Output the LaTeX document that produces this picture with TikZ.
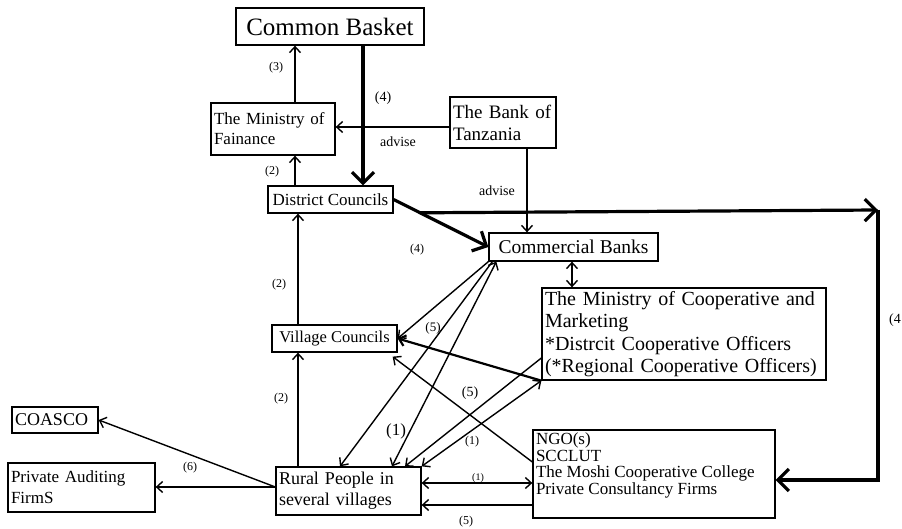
\documentclass[tikz,border=0pt]{standalone}
\usepackage{fontspec}
\setmainfont{Liberation Serif}
\usetikzlibrary{arrows.meta,calc}
\begin{document}
\begin{tikzpicture}[x=1pt,y=-1pt,
  box/.style={draw, line width=1.3pt, inner sep=0pt, anchor=center},
  ln/.style={line width=1.4pt},
  arr/.style={ln, -{Straight Barb[length=6pt,width=11pt]}},
  darr/.style={ln, {Straight Barb[length=6pt,width=11pt]}-{Straight Barb[length=6pt,width=11pt]}},
  marr/.style={line width=2.2pt, -{Straight Barb[length=6pt,width=11pt]}},
  tarr/.style={line width=3.2pt, -{Straight Barb[length=11pt,width=22pt]}},
  lbl/.style={inner sep=0pt, font=\fontsize{12}{13}\selectfont},
]
\useasboundingbox (0,0) rectangle (902,529);

% nodes
\node[box, minimum width=188pt, minimum height=37pt, font=\fontsize{25}{28}\selectfont] (cb) at (330,26.5) {Common Basket};
\node[box, minimum width=124pt, minimum height=52pt, inner xsep=3pt, text width=118pt, align=left, font=\fontsize{17}{20}\selectfont] (mof) at (273,129) {The Ministry of\\Fainance};
\node[box, minimum width=106pt, minimum height=51pt, inner xsep=3pt, text width=100pt, align=left, font=\fontsize{19}{22}\selectfont] (bot) at (503,122.5) {The Bank of\\Tanzania};
\node[box, minimum width=125pt, minimum height=27pt, font=\fontsize{17}{20}\selectfont] (dc) at (330.5,199.5) {District Councils};
\node[box, minimum width=169pt, minimum height=28pt, font=\fontsize{19.5}{22}\selectfont] (cbk) at (573.5,247) {Commercial Banks};
\node[box, minimum width=284pt, minimum height=92pt, inner xsep=3pt, text width=278pt, align=left, font=\fontsize{20}{22.5}\selectfont] (mcm) at (684,334) {The Ministry of Cooperative and\\Marketing\\{}*Distrcit Cooperative Officers\\(*Regional Cooperative Officers)};
\node[box, minimum width=125pt, minimum height=27pt, font=\fontsize{16.5}{19}\selectfont] (vc) at (334.5,338.5) {Village Councils};
\node[box, minimum width=86pt, minimum height=26pt, inner xsep=3pt, text width=80pt, align=left, font=\fontsize{18}{20}\selectfont] (coasco) at (55,420) {COASCO};
\node[box, minimum width=147pt, minimum height=49pt, inner xsep=3pt, text width=141pt, align=left, font=\fontsize{17}{21}\selectfont] (paf) at (81.5,487.5) {Private Auditing\\FirmS};
\node[box, minimum width=145pt, minimum height=48pt, inner xsep=3pt, text width=139pt, align=left, font=\fontsize{18}{21}\selectfont] (rp) at (348.5,491) {Rural People in\\several villages};
\node[box, inner xsep=3pt, inner ysep=3pt, font=\fontsize{17}{16.5}\selectfont] (ngo) at (654,474) {\parbox[c][82pt][t]{236pt}{\raggedright NGO(s)\\SCCLUT\\The Moshi Cooperative College\\Private Consultancy Firms}};

% labels
\node[lbl] (l3) at (276,68) {(3)};
\node[lbl, font=\fontsize{14}{16}\selectfont] (l4a) at (383,98) {(4)};
\node[lbl, font=\fontsize{14}{16}\selectfont] (adv1) at (398,142) {advise};
\node[lbl, font=\fontsize{14}{16}\selectfont] (adv2) at (497,191) {advise};
\node[lbl] (l2a) at (272,172) {(2)};
\node[lbl] (l4b) at (417,250) {(4)};
\node[lbl] (l2b) at (279,285) {(2)};
\node[lbl] (l2c) at (281,399) {(2)};
\node[lbl, font=\fontsize{13}{15}\selectfont] (l5a) at (433,328) {(5)};
\node[lbl, font=\fontsize{14}{16}\selectfont] (l5b) at (470,393) {(5)};
\node[lbl, font=\fontsize{17}{19}\selectfont] (l1a) at (396,431) {(1)};
\node[lbl] (l1b) at (472,442) {(1)};
\node[lbl, font=\fontsize{10}{11}\selectfont] (l1c) at (478,478) {(1)};
\node[lbl, font=\fontsize{12}{14}\selectfont] (l5c) at (466,522) {(5)};
\node[lbl] (l6) at (190,468) {(6)};
\node[lbl, anchor=west, font=\fontsize{14}{16}\selectfont] (l4c) at (889,320) {(4};

% connectors
\coordinate (p1) at ([xshift=22pt]mof.north);
\draw[arr] (p1) -- (p1 |- cb.south);
\coordinate (p2) at ([xshift=33pt]cb.south);
\draw[tarr] (p2) -- (p2 |- dc.north);
\coordinate (p3) at ([yshift=-4.5pt]bot.west);
\draw[arr] (p3) -- (p3 -| mof.east);
\coordinate (p4) at ([xshift=24pt]bot.south);
\draw[arr] (p4) -- (p4 |- cbk.north);
\coordinate (p5) at ([xshift=-35.5pt]dc.north);
\draw[arr] (p5) -- (p5 |- mof.south);
\draw[tarr] (dc.east) -- (cbk.west);
\coordinate (branch) at ($(dc.east)!0.28!(cbk.west)$);
\coordinate (corner) at (878,210);
\draw[tarr] (branch) -- (corner);
\coordinate (p7) at ([yshift=-6pt]ngo.east);
\draw[tarr] (corner) |- (p7);
\coordinate (p8) at ([xshift=-1.5pt]cbk.south);
\draw[darr] (p8) -- (p8 |- mcm.north);
\coordinate (p9) at ([xshift=-36.5pt]vc.north);
\draw[arr] (p9) -- (p9 |- dc.south);
\coordinate (p10) at ([xshift=-50.5pt]rp.north);
\draw[arr] (p10) -- (p10 |- vc.south);
\coordinate (p11) at ([yshift=4pt]rp.west);
\draw[arr] (p11) -- (coasco.east);
\draw[arr] (p11) -- (p11 -| paf.east);
\draw[arr] (cbk.south west) -- (vc.east);
\draw[arr] ([xshift=4pt]cbk.south west) -- ([xshift=-8.5pt]rp.north);
\draw[darr] ([xshift=43.5pt]rp.north) -- ([xshift=8pt]cbk.south west);
\draw[arr] ([yshift=-24pt]mcm.west) -- ([xshift=56.5pt]rp.north);
\draw[darr] (rp.north east) -- (mcm.south west);
\draw[marr] (mcm.south west) -- (vc.east);
\draw[arr] ([yshift=12pt]ngo.west) -- ([xshift=-5pt,yshift=-4pt]vc.south east);
\coordinate (p20) at ([yshift=8pt]rp.east);
\draw[darr] (p20) -- (p20 -| ngo.west);
\coordinate (p21) at ([yshift=-14pt]rp.east);
\draw[arr] (p21 -| ngo.west) -- (p21);
\end{tikzpicture}
\end{document}
